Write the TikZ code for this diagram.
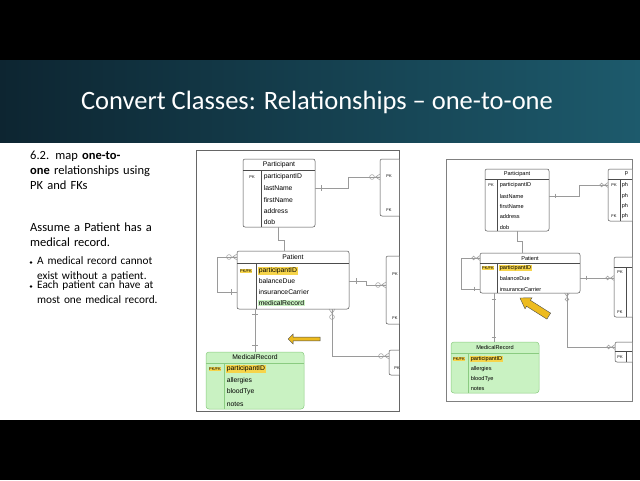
\documentclass[tikz,border=0pt]{standalone}
\usepackage{fontspec}
\setmainfont{Carlito}
\newfontfamily\erfont{Liberation Sans}
\usetikzlibrary{positioning,shapes.arrows}

\definecolor{bandL}{HTML}{0D2531}
\definecolor{bandR}{HTML}{1D5A6C}
\definecolor{erline}{HTML}{9A9A9A}
\definecolor{keyhl}{HTML}{F6D44A}
\definecolor{mrfill}{HTML}{C9F2C2}
\definecolor{mrline}{HTML}{8ACB80}
\definecolor{arrowyel}{HTML}{EDBB1F}

\tikzset{
  entity/.style={draw=black!70, rounded corners=2pt, fill=white, line width=0.5pt},
  mrentity/.style={draw=mrline, rounded corners=3pt, fill=mrfill, line width=0.5pt},
  attr/.style={anchor=west, inner sep=0.6pt, font=\erfont\fontsize{#1}{#1}\selectfont},
  attr/.default=6.8,
  keylbl/.style={anchor=center, inner sep=0.4pt, font=\erfont\fontsize{4}{4}\selectfont},
  rel/.style={draw=erline, line width=0.5pt},
  pics/crowzero/.style={code={
    \draw[erline, line width=0.5pt] (-8,0) circle (2.4);
    \draw[erline, line width=0.5pt] (-4.5,0) -- (0,-3) (-4.5,0) -- (0,0) (-4.5,0) -- (0,3);}},
  pics/tick/.style={code={\draw[erline, line width=0.5pt] (0,-3) -- (0,3);}},
  bullet/.style={anchor=north west, inner sep=0pt, font=\fontsize{12.5}{15}\selectfont, align=left}
}

\begin{document}
\begin{tikzpicture}[x=1pt, y=-1pt]
\useasboundingbox (0,0) rectangle (640,480);
\fill[black] (0,0) rectangle (640,60);
\fill[black] (0,420) rectangle (640,480);
\shade[left color=bandL, right color=bandR] (0,60) rectangle (640,143);
\fill[white] (0,143) rectangle (640,420);
\node[text=white, font=\fontsize{26.5}{26.5}\selectfont] (title) at (317,102) {Convert Classes: Relationships -- one-to-one};

% left column text
\node[bullet, text width=150pt] (intro) at (30,151) {6.2. map \textbf{one-to-\\one} relationships using\\PK and FKs};
\node[bullet, text width=150pt] (assume) at (30,223) {Assume a Patient has a\\medical record.};
\node[bullet, text width=140pt, font=\fontsize{11.3}{15}\selectfont] (b1) at (37,256) {A medical record cannot\\exist without a patient.};
\node[bullet, text width=140pt, font=\fontsize{11.3}{15}\selectfont] (b2) at (37,280) {Each patient can have at\\most one medical record.};
\fill (31,262.5) circle (1.4) (31,286.5) circle (1.4);

% ---------- left diagram ----------
\draw[draw=black!60, line width=0.6pt] (196,150) rectangle (399,411);
\begin{scope}
\clip (196,150) rectangle (399,411);
% side boxes
\draw[entity] (380,159) rectangle (420,216);
\node[keylbl] (rp1) at (389,176) {PK};
\node[keylbl] (rf1) at (389,210) {FK};
\draw[entity] (386,256) rectangle (420,324);
\node[keylbl] (rp2) at (395,274) {PK};
\node[keylbl] (rf2) at (395,318) {FK};
\draw[entity] (389,350) rectangle (420,375);
\node[keylbl] (rp3) at (397,368) {PK};
% participant
\draw[entity] (243,159) rectangle (315,227);
\draw[black!70, line width=0.4pt] (243,170) -- (315,170) (261,170) -- (261,227);
\node[attr, anchor=center] (parH) at (279,165) {Participant};
\node[keylbl] (parK) at (252,177) {PK};
\foreach \t/\y in {participantID/177, lastName/188, firstName/200, address/211, dob/222}
  \node[attr] (par-\t) at (263,\y) {\t};
% patient
\draw[entity] (237,251) rectangle (349,309);
\draw[black!70, line width=0.4pt] (237,263) -- (349,263) (256,263) -- (256,309);
\node[attr, anchor=center] (patH) at (293,257) {Patient};
\node[keylbl, fill=keyhl] (patK) at (246,271) {PK/FK};
\node[attr, fill=keyhl] (pat-id) at (258,271) {participantID};
\node[attr] (pat-bal) at (258,281) {balanceDue};
\node[attr] (pat-ins) at (258,292) {insuranceCarrier};
\node[attr, fill=mrfill] (pat-mr) at (258,303) {medicalRecord};
% medical record
\draw[mrentity] (206,352) rectangle (304,409);
\draw[mrline, line width=0.4pt] (206,363) -- (304,363) (224,363) -- (224,409);
\node[attr, anchor=center] (mrH) at (255,357.5) {MedicalRecord};
\node[keylbl, fill=keyhl] (mrK) at (215,369) {PK/FK};
\node[attr, fill=keyhl] (mr-id) at (226,369) {participantID};
\foreach \t/\y in {allergies/381, bloodTye/392, notes/404}
  \node[attr] (mr-\t) at (226,\y) {\t};
% connectors
\draw[rel] (315,188) -- (348,188) -- (348,177) -- (380,177);
\pic at (321,188) {tick}; \pic at (380,177) {crowzero};
\draw[rel] (278,227) -- (278,240) -- (284,240) -- (284,251);
\draw[rel] (237,292) -- (217,292) -- (217,257) -- (237,257);
\pic at (231,292) {tick}; \pic at (237,257) {crowzero};
\draw[rel] (349,281) -- (366,281) -- (366,285) -- (386,285);
\pic at (356,281) {tick}; \pic at (386,285) {crowzero};
\draw[rel] (332,309) -- (332,356) -- (389,356);
\pic[rotate=90] at (332,309) {crowzero}; \pic at (389,356) {crowzero};
\draw[rel] (255,309) -- (255,352);
\pic[rotate=90] at (255,314) {tick}; \pic[rotate=90] at (255,345) {tick};
\end{scope}
\node[single arrow, fill=arrowyel, draw=black!70, line width=0.4pt, minimum height=32pt, minimum width=10pt,
  single arrow head extend=2pt, inner sep=1pt, shape border rotate=180] (arrL) at (305,339) {};

% ---------- right diagram ----------
\draw[draw=black!50, line width=0.5pt] (446,159) rectangle (632,401);
\begin{scope}
\clip (446,159) rectangle (632,401);
\draw[entity] (608,169) rectangle (650,221);
\draw[black!70, line width=0.4pt] (608,179) -- (650,179) (620,179) -- (620,221);
\node[keylbl] (sp1) at (614,185) {PK};
\node[keylbl] (sf1) at (614,216) {FK};
\foreach \y in {185,196,206,216} \node[attr=5.5] at (621,\y) {ph};
\node[attr=5.5] at (624,174) {p};
\draw[entity] (614,257) rectangle (650,317);
\draw[black!70, line width=0.4pt] (614,267) -- (650,267) (626,267) -- (626,317);
\node[keylbl] (sp2) at (620,272) {PK};
\node[keylbl] (sf2) at (620,312) {FK};
\draw[entity] (615,342) rectangle (650,362);
\draw[black!70, line width=0.4pt] (615,351) -- (650,351) (626,351) -- (626,362);
\node[keylbl] (sp3) at (620,357) {PK};
% participant
\draw[entity] (485,169) rectangle (549,231);
\draw[black!70, line width=0.4pt] (485,179) -- (549,179) (497,179) -- (497,231);
\node[attr=5.6, anchor=center] (rparH) at (517,174) {Participant};
\node[keylbl] (rparK) at (491,185) {PK};
\foreach \t/\y in {participantID/185, lastName/196, firstName/206, address/216, dob/227}
  \node[attr=5.6] (rpar-\t) at (499,\y) {\t};
% patient
\draw[entity] (480,253) rectangle (580,293);
\draw[black!70, line width=0.4pt] (480,263) -- (580,263) (497,263) -- (497,293);
\node[attr=5.6, anchor=center] (rpatH) at (530,258) {Patient};
\node[keylbl, fill=keyhl] (rpatK) at (488,268) {PK/FK};
\node[attr=5.6, fill=keyhl] (rpat-id) at (499,268) {participantID};
\node[attr=5.6] (rpat-bal) at (499,278) {balanceDue};
\node[attr=5.6] (rpat-ins) at (499,289) {insuranceCarrier};
% medical record
\draw[mrentity] (451,342) rectangle (539,393);
\draw[mrline, line width=0.4pt] (451,353) -- (539,353) (468,353) -- (468,393);
\node[attr=5.6, anchor=center] (rmrH) at (495,347.5) {MedicalRecord};
\node[keylbl, fill=keyhl] (rmrK) at (459,359) {PK/FK};
\node[attr=5.6, fill=keyhl] (rmr-id) at (470,359) {participantID};
\foreach \t/\y in {allergies/369, bloodTye/379, notes/389}
  \node[attr=5.6] (rmr-\t) at (470,\y) {\t};
% connectors
\draw[rel] (549,196) -- (579,196) -- (579,185) -- (608,185);
\pic[scale=0.8] at (555,196) {tick}; \pic[scale=0.8] at (608,185) {crowzero};
\draw[rel] (517,231) -- (517,241) -- (522,241) -- (522,253);
\draw[rel] (480,289) -- (461,289) -- (461,258) -- (480,258);
\pic[scale=0.8] at (474,289) {tick}; \pic[scale=0.8] at (480,258) {crowzero};
\draw[rel] (580,278) -- (614,278);
\pic[scale=0.8] at (586,278) {tick}; \pic[scale=0.8] at (614,278) {crowzero};
\draw[rel] (567,293) -- (567,347) -- (615,347);
\pic[scale=0.8, rotate=90] at (567,293) {crowzero}; \pic[scale=0.8] at (615,347) {crowzero};
\draw[rel] (494,293) -- (494,342);
\pic[scale=0.8, rotate=90] at (494,299) {tick}; \pic[scale=0.8, rotate=90] at (494,337) {tick};
\end{scope}
% diagonal pointer
\filldraw[fill=arrowyel, draw=black!70, line width=0.4pt]
  (520,298) -- (532.0,297.8) -- (530.4,300.3) -- (550.6,313.1) -- (546.9,319.1)
  -- (526.6,306.3) -- (525.0,308.8) -- cycle;
\end{tikzpicture}
\end{document}
